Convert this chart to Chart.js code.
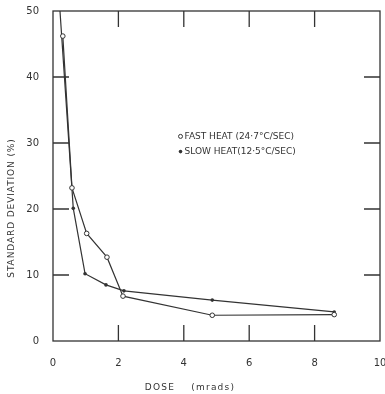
<!DOCTYPE html>
<html>
<head>
<meta charset="utf-8">
<script src="https://cdn.jsdelivr.net/npm/chart.js@4"></script>
<style>
  html, body { margin: 0; padding: 0; background: #fff; }
  #wrap { width: 385px; height: 394px; }
</style>
</head>
<body>
<div id="wrap"><canvas id="chart"></canvas></div>
<script>
// data
const fastDose = [0.3, 0.58, 1.03, 1.65, 2.14, 4.87, 8.6];
const fastSd   = [46.2, 23.2, 16.3, 12.7, 6.8, 3.9, 4.0];
const slowDose = [0.2, 0.62, 0.98, 1.62, 2.17, 4.87, 8.6];
const slowSd   = [51, 20.1, 10.2, 8.5, 7.6, 6.2, 4.4];
const xTicks = [0, 2, 4, 6, 8, 10];
const yTicks = [0, 10, 20, 30, 40, 50];
const fastLabel = 'FAST HEAT (24·7°C/SEC)';
const slowLabel = 'SLOW HEAT(12·5°C/SEC)';

const ink = '#333';
const font = '"DejaVu Sans", sans-serif';

function toPoints(xs, ys) {
    return xs.map((x, i) => ({ x, y: ys[i] }));
}

// frame, inward ticks, legend and axis titles
const paperPlugin = {
    id: 'paper',
    afterDraw(chart) {
        const { ctx, chartArea: a, scales } = chart;
        const xs = scales.x, ys = scales.y;
        ctx.save();
        ctx.strokeStyle = ink;
        ctx.lineWidth = 1.3;
        ctx.strokeRect(a.left, a.top, a.right - a.left, a.bottom - a.top);

        const len = 16;
        ctx.beginPath();
        [2, 4, 6, 8].forEach(v => {
            const px = xs.getPixelForValue(v);
            ctx.moveTo(px, a.bottom); ctx.lineTo(px, a.bottom - len);
            ctx.moveTo(px, a.top); ctx.lineTo(px, a.top + len);
        });
        [10, 20, 30, 40].forEach(v => {
            const py = ys.getPixelForValue(v);
            ctx.moveTo(a.left, py); ctx.lineTo(a.left + len, py);
            ctx.moveTo(a.right, py); ctx.lineTo(a.right - len, py);
        });
        ctx.stroke();

        // legend
        const lx = xs.getPixelForValue(3.9);
        const ly1 = ys.getPixelForValue(31);
        const ly2 = ys.getPixelForValue(28.7);
        ctx.fillStyle = ink;
        ctx.font = '9px ' + font;
        ctx.textBaseline = 'middle';
        ctx.textAlign = 'left';
        ctx.beginPath();
        ctx.arc(lx, ly1, 2, 0, Math.PI * 2);
        ctx.lineWidth = 1;
        ctx.stroke();
        ctx.beginPath();
        ctx.arc(lx, ly2, 1.8, 0, Math.PI * 2);
        ctx.fill();
        ctx.fillText(fastLabel, lx + 4, ly1);
        ctx.fillText(slowLabel, lx + 4, ly2);

        // axis titles
        ctx.font = '9px ' + font;
        ctx.letterSpacing = '1.2px';
        ctx.textAlign = 'center';
        ctx.fillText('DOSE    (mrads)', 190, 388);
        ctx.translate(12, 208);
        ctx.rotate(-Math.PI / 2);
        ctx.letterSpacing = '0.9px';
        ctx.fillText('STANDARD DEVIATION (%)', 0, 0);
        ctx.restore();
    }
};

new Chart(document.getElementById('chart'), {
    type: 'scatter',
    data: {
        datasets: [
            {
                label: fastLabel,
                data: toPoints(fastDose, fastSd),
                showLine: true,
                borderColor: ink,
                borderWidth: 1.2,
                pointStyle: 'circle',
                pointRadius: 2.3,
                pointBackgroundColor: '#fff',
                pointBorderColor: ink,
                pointBorderWidth: 1,
            },
            {
                label: slowLabel,
                data: toPoints(slowDose, slowSd),
                showLine: true,
                borderColor: ink,
                borderWidth: 1.2,
                pointStyle: 'circle',
                pointRadius: 1.8,
                pointBackgroundColor: ink,
                pointBorderColor: ink,
                pointBorderWidth: 0,
            },
        ],
    },
    options: {
        responsive: true,
        maintainAspectRatio: false,
        animation: false,
        layout: { padding: { top: 11, right: 2, left: 0, bottom: 0 } },
        plugins: {
            legend: { display: false },
            tooltip: { enabled: false },
        },
        scales: {
            x: {
                type: 'linear',
                min: 0, max: 10,
                afterFit: s => { s.height = 53; s.paddingLeft = 0; s.paddingRight = 0; },
                afterBuildTicks: s => { s.ticks = xTicks.map(v => ({ value: v })); },
                grid: { display: false, drawTicks: false },
                border: { display: false },
                ticks: { padding: 16, color: ink, font: { family: font, size: 10 } },
            },
            y: {
                type: 'linear',
                min: 0, max: 50,
                afterFit: s => { s.width = 53; s.paddingTop = 0; s.paddingBottom = 0; },
                afterBuildTicks: s => { s.ticks = yTicks.map(v => ({ value: v })); },
                grid: { display: false, drawTicks: false },
                border: { display: false },
                ticks: { padding: 14, color: ink, font: { family: font, size: 10 } },
            },
        },
    },
    plugins: [paperPlugin],
});
</script>
</body>
</html>
